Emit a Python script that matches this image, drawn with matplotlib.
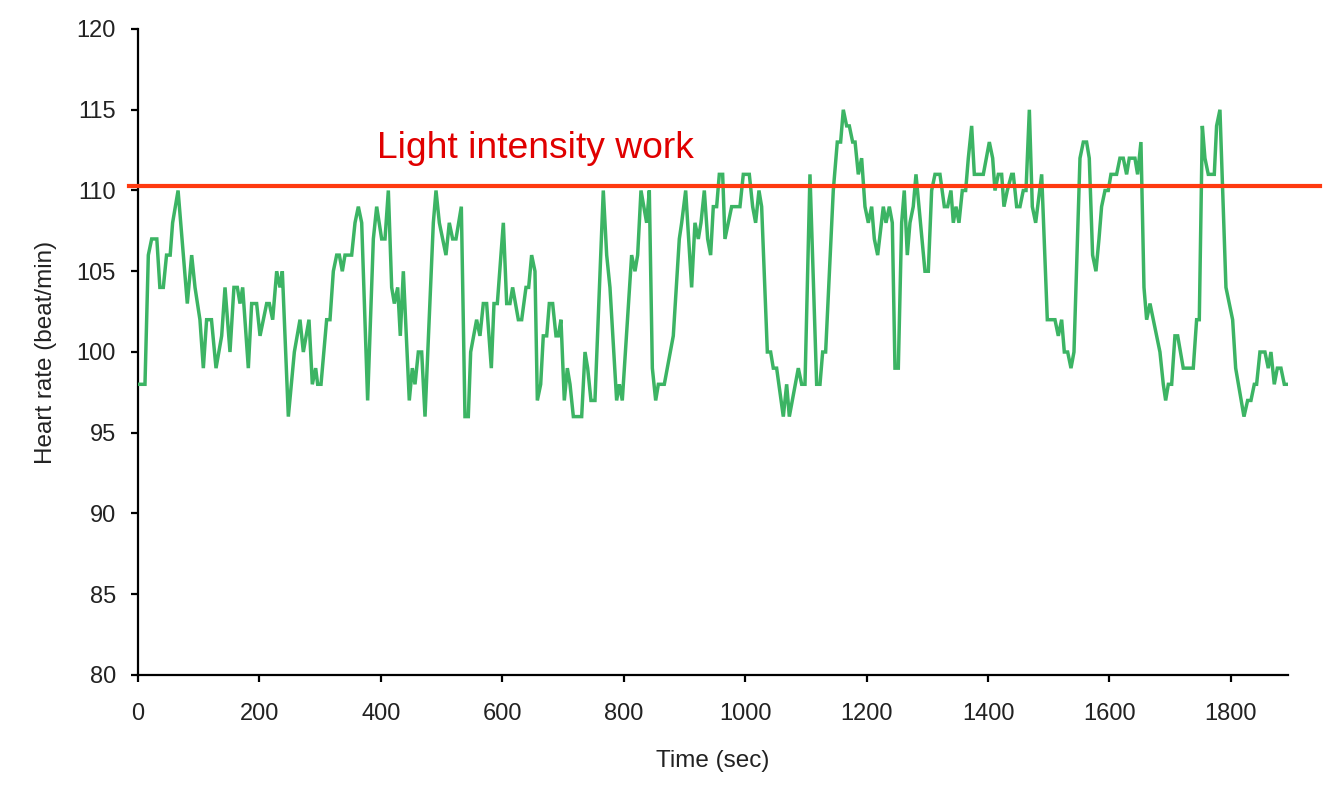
import matplotlib
matplotlib.use("Agg")
import matplotlib.pyplot as plt

# ---- data ----
time_sec = [0, 11.5, 17, 22.5, 31, 36, 41.7, 47, 53, 57, 66, 81.2, 88.4, 93.9, 102, 107.6, 113, 121, 128.5,
            137.8, 143.3, 151.5, 158, 163.6, 168, 172.4, 181.7, 187.2, 195.4, 201, 211.9, 216.3, 221.8, 228.4,
            233.9, 237.7, 247.6, 257.5, 266.8, 272.3, 281.6, 287.1, 292.6, 295.9, 301.4, 310.7, 316.2, 321.7,
            327.2, 331.6, 336.5, 340.9, 351.9, 357.4, 362.9, 368.4, 378.2, 387.6, 393.1, 401.3, 406.8, 412.3,
            417.8, 422.2, 427.7, 432, 437, 446.8, 451.8, 456.2, 461.7, 467.2,
            472.7, 486.4, 490.8, 496.3, 501.8, 507.2, 512.7, 518.2, 523.7, 532.5, 538.5, 544, 547.9, 557.7,
            563.2, 568.7, 574.2, 581.9, 586.3, 591.8, 601.7, 607.2, 612.6, 617, 626.4, 631.9, 639, 643.4, 648.3,
            653.8, 657.7, 663.2, 667.5, 673.1, 677.4, 682.9, 688.4, 692.2, 696.6, 702.1, 707.1, 711.5,
            717, 730.7, 736.2, 740.6, 746, 752.6, 766.3, 771.9, 777.3, 788.3, 792.7, 797.6, 813, 818.5, 822.9,
            828.4, 837.7, 842.1, 847.1, 852.6, 857, 866.8, 881.6, 891.5, 895.4, 902, 911.8, 917.3, 922.8, 927.2,
            932.7, 938.2, 943.1,
            947.5, 953, 957.4, 962.9, 966.7, 972.2, 977.7, 991.4, 996.9, 1006.8, 1012.3, 1017.2, 1022.7, 1027.1,
            1036.5, 1041.9, 1046.3, 1051.8, 1062.8, 1068.3, 1072.7, 1087.5, 1093, 1098.5, 1106.7, 1117.7, 1123.2,
            1127.6, 1132.5, 1145.1, 1151.7, 1157.2, 1161.6, 1167.1, 1171.5, 1177,
            1181, 1186.3, 1191.8, 1197.3, 1202.8, 1208.3, 1212.7, 1218.2, 1227.5, 1231.9, 1237.4, 1242.3, 1246.7,
            1252.2, 1257.7, 1262, 1267, 1271.4, 1276.8, 1281.3, 1296.1, 1301.6, 1307.1, 1312.6, 1320.8, 1328,
            1333.4, 1338.9, 1342.8, 1347.2, 1352.1, 1357.6, 1363.1, 1367.5, 1373, 1377.4, 1392.2, 1402.1, 1407.6,
            1411.4, 1416.9,
            1422.4, 1426.2, 1431.7, 1438.8, 1441.6, 1447.1, 1452.6, 1458, 1462.5, 1468, 1472.9, 1478.4, 1488.3,
            1497.6, 1510.2, 1515.7, 1521.2, 1525.6, 1531.1, 1536.6, 1541.5, 1551.4, 1556.9, 1562.3, 1566.7,
            1572.2, 1577.7, 1582.7, 1587, 1592.6, 1598, 1602.4, 1611.7, 1617.2, 1622.7, 1628.2, 1632.6, 1641.9,
            1646.3, 1651.8, 1656.8, 1661.2, 1666.7,
            1683.1, 1688.6, 1692.5, 1696.9, 1702.4, 1707.8, 1712.3, 1721.5, 1738, 1743.5, 1747.9, 1752.9, 1757.2,
            1762.7, 1772.6, 1776.4, 1781.9, 1791.8, 1802.8, 1807.8, 1821.5, 1827.5, 1833, 1838.5, 1842.3, 1847.8,
            1856, 1861.5, 1865.9, 1871.4, 1876.4, 1882.4, 1887.9, 1893.4]

heart_rate = [98, 98, 106, 107, 107, 104, 104, 106, 106, 108, 110, 103, 106, 104, 102, 99, 102, 102, 99,
              101, 104, 100, 104, 104, 103, 104, 99, 103, 103, 101, 103, 103, 102, 105,
              104, 105, 96, 100, 102, 100, 102, 98, 99, 98, 98, 102, 102, 105,
              106, 106, 105, 106, 106, 108, 109, 108, 97, 107, 109, 107, 107, 110,
              104, 103, 104, 101, 105, 97, 99, 98, 100, 100,
              96, 108, 110, 108, 107, 106, 108, 107, 107, 109, 96, 96, 100, 102,
              101, 103, 103, 99, 103, 103, 108, 103, 103, 104, 102, 102, 104, 104, 106,
              105, 97, 98, 101, 101, 103, 103, 101, 101, 102, 97, 99, 98,
              96, 96, 100, 99, 97, 97, 110, 106, 104, 97, 98, 97, 106, 105, 106,
              110, 108, 110, 99, 97, 98, 98, 101, 107, 108, 110, 104, 108, 107, 108,
              110, 107, 106,
              109, 109, 111, 111, 107, 108, 109, 109, 111, 111, 109, 108, 110, 109,
              100, 100, 99, 99, 96, 98, 96, 99, 98, 98, 111, 98, 98,
              100, 100, 110, 113, 113, 115, 114, 114, 113,
              113, 111, 112, 109, 108, 109, 107, 106, 109, 108, 109, 108, 99,
              99, 108, 110, 106, 108, 109, 111, 105, 105, 110, 111, 111, 109,
              109, 110, 108, 109, 108, 110, 110, 112, 114, 111, 111, 113, 112,
              110, 111,
              111, 109, 110, 111, 111, 109, 109, 110, 110, 115, 109, 108, 111,
              102, 102, 101, 102, 100, 100, 99, 100, 112, 113, 113, 112,
              106, 105, 107, 109, 110, 110, 111, 111, 112, 112, 111, 112, 112,
              111, 113, 104, 102, 103,
              100, 98, 97, 98, 98, 101, 101, 99, 99, 102, 102, 114, 112,
              111, 111, 114, 115, 104, 102, 99, 96, 97, 97, 98, 98, 100,
              100, 99, 100, 98, 99, 99, 98, 98]

threshold = 110.3
threshold_label = "Light intensity work"
x_ticks = [0, 200, 400, 600, 800, 1000, 1200, 1400, 1600, 1800]
y_ticks = [80, 85, 90, 95, 100, 105, 110, 115, 120]

# ---- figure ----
plt.rcParams['font.family'] = ['Liberation Sans', 'DejaVu Sans']
fig = plt.figure(figsize=(13.39, 8.01), dpi=100)
ax = fig.add_axes([138 / 1339, 1 - 675 / 801, (1288 - 138) / 1339, (675 - 29) / 801])

ax.plot(time_sec, heart_rate, color='#3CB464', lw=2.5, solid_joinstyle='miter', zorder=3)

ax.plot([-0.008, 1.028], [threshold, threshold], color='#FF3A10', lw=3.0,
        transform=ax.get_yaxis_transform(), clip_on=False, zorder=4)
ax.text(393, 112.6, threshold_label, color='#E00000', fontsize=26.8, ha='left', va='center')

ax.set_xlim(0, 1894)
ax.set_ylim(80, 120)
ax.set_xticks(x_ticks)
ax.set_yticks(y_ticks)
ax.spines['top'].set_visible(False)
ax.spines['right'].set_visible(False)
for s in ('left', 'bottom'):
    ax.spines[s].set_linewidth(1.6)
    ax.spines[s].set_color('black')
ax.tick_params(axis='both', direction='out', length=5, width=1.6, color='black',
               labelsize=17, labelcolor='#222222')
ax.tick_params(axis='x', pad=15)
ax.tick_params(axis='y', pad=11)

ax.set_xlabel('Time (sec)', fontsize=17.5, color='#222222', labelpad=18)
ax.set_ylabel('Heart rate (beat/min)', fontsize=17.5, color='#222222', labelpad=14)

fig.savefig('out.png', dpi=100)
